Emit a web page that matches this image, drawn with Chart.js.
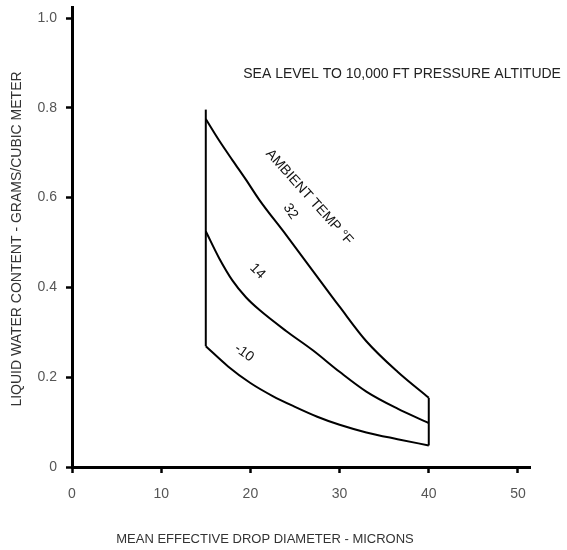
<!DOCTYPE html>
<html>
<head>
<meta charset="utf-8">
<script src="https://cdn.jsdelivr.net/npm/chart.js@4"></script>
<style>
  html, body { margin: 0; padding: 0; background: #fff; }
  #wrap { width: 567px; height: 550px; }
</style>
</head>
<body>
<div id="wrap"><canvas id="c" width="567" height="550"></canvas></div>
<script>
// ---- data ----
const xTickValues = [0, 10, 20, 30, 40, 50];
const yTickValues = [0, 0.2, 0.4, 0.6, 0.8, 1.0];
const yTickLabels = ["0", "0.2", "0.4", "0.6", "0.8", "1.0"];

const temp32X = [15, 16.5, 18, 19.5, 21, 24, 27, 30, 33, 36.5, 40];
const temp32Y = [0.775, 0.727, 0.683, 0.640, 0.595, 0.517, 0.437, 0.357, 0.280, 0.212, 0.154];

const temp14X = [15, 16.5, 18, 19.5, 21, 24, 27, 30, 33, 36.5, 40];
const temp14Y = [0.525, 0.465, 0.415, 0.378, 0.350, 0.303, 0.260, 0.212, 0.168, 0.130, 0.098];

const tempM10X = [15, 17.5, 20, 22.5, 25, 27.5, 30, 33, 36.5, 40];
const tempM10Y = [0.269, 0.224, 0.187, 0.158, 0.134, 0.112, 0.094, 0.077, 0.062, 0.048];

const leftBoundX = [15, 15];
const leftBoundY = [0.269, 0.796];
const rightBoundX = [40, 40];
const rightBoundY = [0.048, 0.154];

const xTitle = "MEAN EFFECTIVE DROP DIAMETER - MICRONS";
const yTitle = "LIQUID WATER CONTENT - GRAMS/CUBIC METER";
const noteText = "SEA LEVEL TO 10,000 FT PRESSURE ALTITUDE";
const curveLabelText = ["AMBIENT TEMP °F", "32", "14", "-10"];
const curveLabelX = [26.6, 24.5, 20.8, 19.3];
const curveLabelY = [0.601, 0.569, 0.436, 0.254];
const noteX = 19.2, noteY = 0.874;

// ---- build ----
const pts = (xs, ys) => xs.map((x, i) => ({ x: x, y: ys[i] }));
const FONT = "'Liberation Sans', Arial, sans-serif";

const lineDs = (data, smooth) => ({
  data: data,
  showLine: true,
  borderColor: '#000',
  borderWidth: 2,
  pointRadius: 0,
  fill: false,
  tension: smooth ? 0.4 : 0,
  cubicInterpolationMode: smooth ? 'monotone' : 'default'
});

const textPlugin = {
  id: 'texts',
  afterDraw(chart) {
    const ctx = chart.ctx;
    const xs = chart.scales.x, ys = chart.scales.y;
    ctx.save();
    ctx.fillStyle = '#333';
    ctx.font = '14px ' + FONT;
    ctx.textAlign = 'center';
    ctx.textBaseline = 'middle';
    ctx.save();
    ctx.translate(17, 239);
    ctx.rotate(-Math.PI / 2);
    ctx.fillText(yTitle, 0, 0);
    ctx.restore();
    ctx.font = '13px ' + FONT;
    ctx.fillText(xTitle, 265, 539);
    ctx.fillStyle = '#222';
    ctx.font = '14px ' + FONT;
    ctx.textAlign = 'left';
    ctx.fillText(noteText, xs.getPixelForValue(noteX), ys.getPixelForValue(noteY));
    const angles = [48, 55, 45, 35];
    ctx.textAlign = 'center';
    for (let i = 0; i < curveLabelText.length; i++) {
      ctx.save();
      ctx.translate(xs.getPixelForValue(curveLabelX[i]), ys.getPixelForValue(curveLabelY[i]));
      ctx.rotate(angles[i] * Math.PI / 180);
      ctx.font = '14px ' + FONT;
      ctx.fillStyle = '#111';
      ctx.fillText(curveLabelText[i], 0, 0);
      ctx.restore();
    }
    ctx.restore();
  }
};

new Chart(document.getElementById('c'), {
  type: 'scatter',
  data: {
    datasets: [
      lineDs(pts(temp32X, temp32Y), true),
      lineDs(pts(temp14X, temp14Y), true),
      lineDs(pts(tempM10X, tempM10Y), true),
      lineDs(pts(leftBoundX, leftBoundY), false),
      lineDs(pts(rightBoundX, rightBoundY), false)
    ]
  },
  options: {
    responsive: false,
    devicePixelRatio: 1,
    animation: false,
    layout: { padding: { top: 7, right: 37, left: 0, bottom: 0 } },
    plugins: { legend: { display: false }, tooltip: { enabled: false } },
    scales: {
      x: {
        type: 'linear',
        min: 0,
        max: 51.35,
        afterBuildTicks: s => { s.ticks = xTickValues.map(v => ({ value: v })); },
        afterFit: s => { s.height = 83; s.paddingLeft = 0; s.paddingRight = 0; },
        grid: { drawOnChartArea: false, drawTicks: true, tickLength: 6, tickWidth: 2.5, tickColor: '#000' },
        border: { display: true, color: '#000', width: 3 },
        ticks: { color: '#555', font: { family: FONT, size: 14 }, padding: 13, maxRotation: 0, autoSkip: false,
                 callback: v => String(v) }
      },
      y: {
        type: 'linear',
        min: 0,
        max: 1.0245,
        afterBuildTicks: s => { s.ticks = yTickValues.map(v => ({ value: v })); },
        afterFit: s => { s.width = 72; s.paddingTop = 0; s.paddingBottom = 0; },
        grid: { drawOnChartArea: false, drawTicks: true, tickLength: 6, tickWidth: 2.5, tickColor: '#000' },
        border: { display: true, color: '#000', width: 3 },
        ticks: { color: '#555', font: { family: FONT, size: 14 }, padding: 9, autoSkip: false,
                 callback: (v) => { const i = yTickValues.findIndex(t => Math.abs(t - v) < 1e-9); return i >= 0 ? yTickLabels[i] : ''; } }
      }
    }
  },
  plugins: [textPlugin]
});
</script>
</body>
</html>
